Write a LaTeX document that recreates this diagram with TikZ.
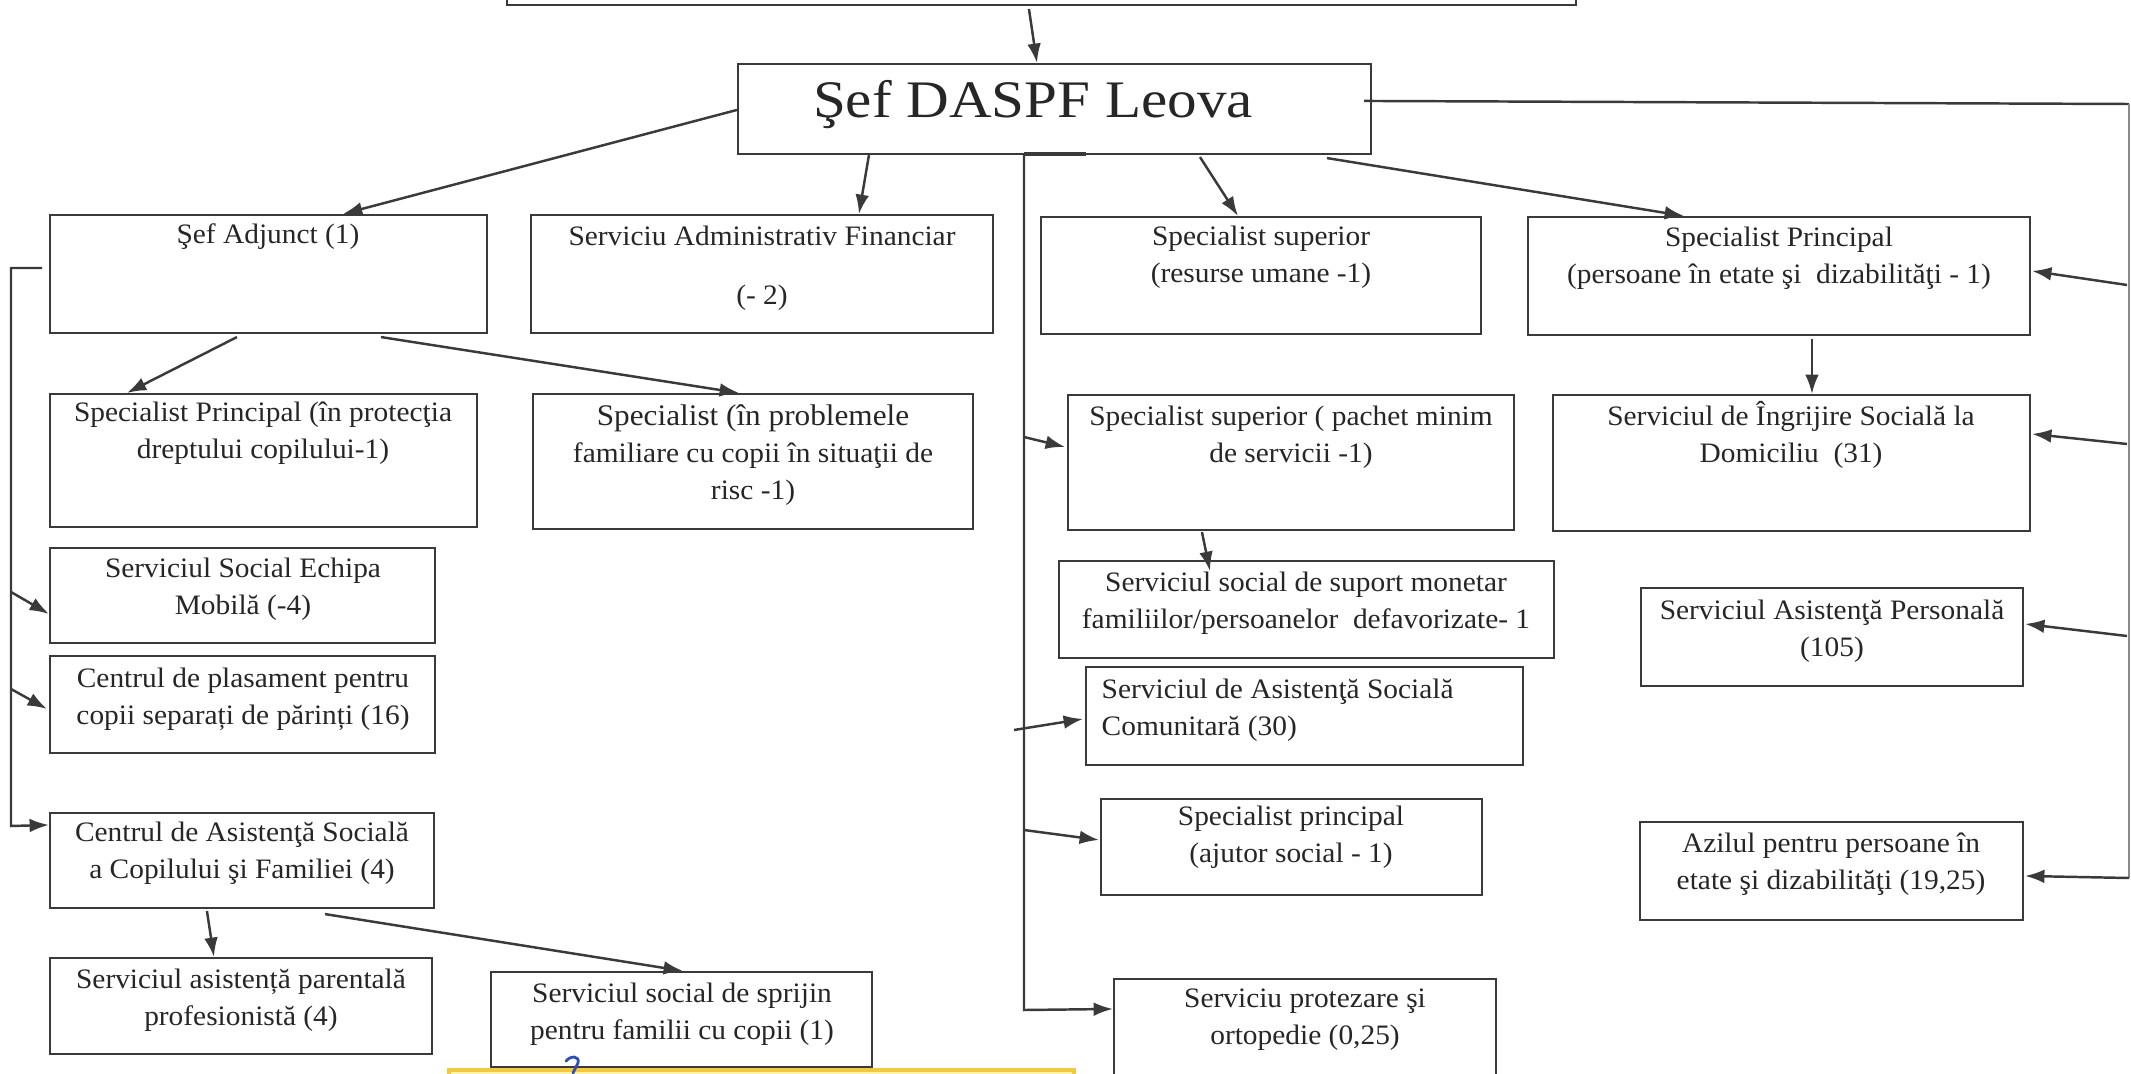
\documentclass[tikz,border=0pt]{standalone}
\usepackage{fontspec}
\setmainfont{Liberation Serif}
\newfontfamily\bodyf{Liberation Serif}[FakeStretch=1.045]
\newfontfamily\titlef{Liberation Serif}[FakeStretch=1.12]
\usetikzlibrary{arrows.meta,fit}
\definecolor{ln}{HTML}{3A3A3A}
\definecolor{tx}{HTML}{262626}
\definecolor{ybox}{HTML}{FFF3A6}
\definecolor{yedge}{HTML}{F5C842}
\definecolor{pen}{HTML}{2F4FB8}
\newcommand\bx[5]{\node[boxst, fit={(#2,#3) (#4,#5)}] (#1) {};}
\newcommand\tx[4]{\node[txt] (#1) at (#2,{#3-24}) {\rule{0pt}{7.6pt}#4};}
\begin{document}
\begin{tikzpicture}[x=0.01cm,y=-0.01cm,
  boxst/.style={draw=ln,line width=0.6pt,inner sep=0pt},
  txt/.style={text=tx,font=\bodyf\fontsize{8}{10.5}\selectfont,align=center,inner sep=0pt,anchor=north},
  conn/.style={draw=ln,line width=0.7pt},
  arr/.style={conn,-{Latex[length=5.5pt,width=3.9pt]}},
  titlest/.style={text=tx,font=\titlef\fontsize{15}{18}\selectfont,anchor=base,inner sep=0pt}]
\useasboundingbox (0,0) rectangle (2131,1073);
\clip (0,0) rectangle (2131,1073);
\fill[white] (0,0) rectangle (2131,1073);

\bx{top}{507}{-30}{1576}{5}
\bx{shef}{738}{64}{1371}{154}
\node[titlest] (title) at (1033,117) {Şef DASPF Leova};

\bx{A}{50}{215}{487}{333} \tx{At}{268}{240}{Şef Adjunct (1)}
\bx{B}{531}{215}{993}{333} \tx{Bt}{762}{242}{Serviciu Administrativ Financiar\\[6.2pt](- 2)}
\bx{C}{1041}{217}{1481}{334} \tx{Ct}{1261}{242}{Specialist superior\\(resurse umane -1)}
\bx{D}{1528}{217}{2030}{335} \tx{Dt}{1779}{243}{Specialist Principal\\(persoane în etate şi\ \ dizabilităţi - 1)}

\bx{E}{50}{394}{477}{527} \tx{Et}{263}{418}{Specialist Principal (în protecţia\\dreptului copilului-1)}
\bx{F}{533}{394}{973}{529} \tx{Ft}{753}{422}{{\fontsize{8.5}{10.5}\selectfont Specialist (în problemele}\\familiare cu copii în situaţii de\\risc -1)}
\bx{G}{1068}{395}{1514}{530} \tx{Gt}{1291}{422}{Specialist superior ( pachet minim\\de servicii -1)}
\bx{H}{1553}{395}{2030}{531} \tx{Ht}{1791}{422}{Serviciul de Îngrijire Socială la\\Domiciliu\ \ (31)}

\bx{I}{50}{548}{435}{643} \tx{It}{243}{574}{Serviciul Social Echipa\\Mobilă (-4)}
\bx{J}{50}{656}{435}{753} \tx{Jt}{243}{684}{Centrul de plasament pentru\\copii separați de părinți (16)}
\bx{K}{50}{813}{434}{908} \tx{Kt}{242}{838}{Centrul de Asistenţă Socială\\a Copilului şi Familiei (4)}
\bx{L}{50}{958}{432}{1054} \tx{Lt}{241}{985}{Serviciul asistență parentală\\profesionistă (4)}
\bx{M}{491}{972}{872}{1067} \tx{Mt}{682}{999}{Serviciul social de sprijin\\pentru familii cu copii (1)}

\bx{N}{1059}{561}{1554}{658} \tx{Nt}{1306}{588}{Serviciul social de suport monetar\\familiilor/persoanelor\ \ defavorizate- 1}
\bx{O}{1086}{667}{1523}{765}
\node[txt,anchor=north west,align=left] (Ot) at (1101,{695-24}) {\rule{0pt}{7.6pt}Serviciul de Asistenţă Socială\\Comunitară (30)};
\bx{P}{1101}{799}{1482}{895} \tx{Pt}{1291}{822}{Specialist principal\\(ajutor social - 1)}
\bx{Q}{1114}{979}{1496}{1090} \tx{Qt}{1305}{1004}{Serviciu protezare şi\\ortopedie (0,25)}
\bx{R}{1641}{588}{2023}{686} \tx{Rt}{1832}{616}{Serviciul Asistenţă Personală\\(105)}
\bx{S}{1640}{822}{2023}{920} \tx{St}{1831}{849}{Azilul pentru persoane în\\etate şi dizabilităţi (19,25)}

% connectors from the director
\draw[arr] ([shift={(523,3)}]top.south west) -- ([shift={(300,0)}]shef.north west);
\draw[arr] ([shift={(0,47)}]shef.north west) -- ([shift={(294,0)}]A.north west);
\draw[arr] ([shift={(132,0)}]shef.south west) -- ([shift={(329,0)}]B.north west);
\draw[arr] ([shift={(463,2)}]shef.south west) -- ([shift={(198,0)}]C.north west);
\draw[arr] ([shift={(590,3)}]shef.south west) -- ([shift={(157,0)}]D.north west);

% right bus
\coordinate (rb1) at (2129,104);
\coordinate (rb2) at (2129,878);
\draw[conn] ([shift={(-8,38)}]shef.north east) -- (rb1);
\draw[conn,line width=0.4pt,draw=ln!60] (rb1) -- (rb2);
\draw[arr] ([shift={(-2,181)}]rb1) -- ([shift={(1,55)}]D.north east);
\draw[arr] ([shift={(-2,340)}]rb1) -- ([shift={(1,40)}]H.north east);
\draw[arr] ([shift={(-2,532)}]rb1) -- ([shift={(1,37)}]R.north east);
\draw[arr] (rb2) -- ([shift={(1,55)}]S.north east);

% left bus
\coordinate (lbs) at (42,268);
\coordinate (lb1) at (11,268);
\coordinate (lb2) at (11,826);
\draw[arr] (lbs) -- (lb1) -- (lb2) -- ([shift={(0,13)}]K.north west);
\draw[arr] ([shift={(0,324)}]lb1) -- ([shift={(0,67)}]I.north west);
\draw[arr] ([shift={(0,421)}]lb1) -- ([shift={(-2,54)}]J.north west);

% middle bus
\coordinate (mbs) at (1086,154);
\coordinate (mb1) at (1024,154);
\coordinate (mb2) at (1024,1010);
\draw[conn,line width=1.3pt] (mbs) -- (mb1);
\draw[arr] (mb1) -- (mb2) -- ([shift={(0,31)}]Q.north west);
\draw[arr] ([shift={(0,283)}]mb1) -- ([shift={(-2,53)}]G.north west);
\draw[arr] ([shift={(-10,576)}]mb1) -- ([shift={(-2,53)}]O.north west);
\draw[arr] ([shift={(0,676)}]mb1) -- ([shift={(-1,42)}]P.north west);

% sub-level arrows
\draw[arr] ([shift={(188,3)}]A.south west) -- ([shift={(78,0)}]E.north west);
\draw[arr] ([shift={(332,3)}]A.south west) -- ([shift={(207,0)}]F.north west);
\draw[arr] ([shift={(285,3)}]D.south west) -- ([shift={(260,0)}]H.north west);
\draw[arr] ([shift={(135,1)}]G.south west) -- ([shift={(152,11)}]N.north west);
\draw[arr] ([shift={(158,2)}]K.south west) -- ([shift={(165,0)}]L.north west);
\draw[arr] ([shift={(276,5)}]K.south west) -- ([shift={(193,0)}]M.north west);

% yellow strip at the bottom and pen mark
\node[fit={(449,1070) (1074,1100)},inner sep=0pt,draw=yedge,fill=ybox,line width=1.2pt] (ybar) {};
\draw[pen,line width=0.8pt,line cap=round] (566,1061) .. controls (571,1055) and (580,1056) .. (578,1063) -- (573,1073);
\end{tikzpicture}
\end{document}
